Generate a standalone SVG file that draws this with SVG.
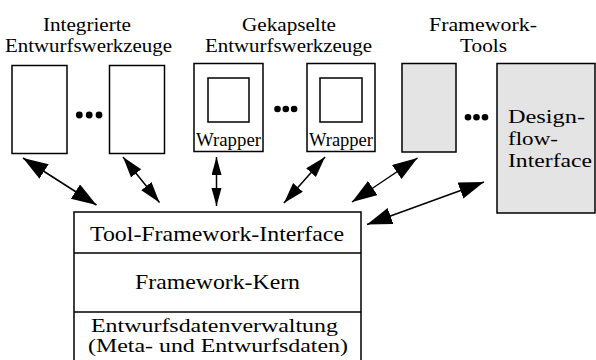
<svg xmlns="http://www.w3.org/2000/svg" width="596" height="360" viewBox="0 0 596 360">
  <style>
    .box { fill: #ffffff; stroke: #000000; stroke-width: 1.5; }
    .tool { fill: #e4e4e4; stroke: #000000; stroke-width: 1.5; }
    .t { font-family: "Liberation Serif", "Times New Roman", serif; fill: #000000; }
    .lbl { font-size: 19px; }
    .wrap { font-size: 18px; }
    .big { font-size: 22px; }
    .mid { font-size: 19px; }
    .small { font-size: 18px; }
    .dot { fill: #000000; }
    .con { stroke: #000000; stroke-width: 1.5; fill: none; }
  </style>
  <defs>
    <marker id="headL" markerUnits="userSpaceOnUse" markerWidth="26" markerHeight="18" refX="25" refY="8.5" orient="auto-start-reverse">
      <path d="M0,0 L25,8.5 L0,17 z" fill="#000000"/>
    </marker>
    <marker id="headM" markerUnits="userSpaceOnUse" markerWidth="22" markerHeight="14" refX="21" refY="6.5" orient="auto-start-reverse">
      <path d="M0,0 L21,6.5 L0,13 z" fill="#000000"/>
    </marker>
    <marker id="headS" markerUnits="userSpaceOnUse" markerWidth="19" markerHeight="11" refX="18" refY="5" orient="auto-start-reverse">
      <path d="M0,0 L18,5 L0,10 z" fill="#000000"/>
    </marker>
  </defs>

  <!-- group headings -->
  <g id="heading-integrated">
    <text class="t lbl" x="43" y="31" textLength="88" lengthAdjust="spacingAndGlyphs">Integrierte</text>
    <text class="t lbl" x="5" y="52" textLength="167" lengthAdjust="spacingAndGlyphs">Entwurfswerkzeuge</text>
  </g>
  <g id="heading-wrapped">
    <text class="t lbl" x="242" y="31" textLength="94" lengthAdjust="spacingAndGlyphs">Gekapselte</text>
    <text class="t lbl" x="205" y="52" textLength="167" lengthAdjust="spacingAndGlyphs">Entwurfswerkzeuge</text>
  </g>
  <g id="heading-framework-tools">
    <text class="t lbl" x="429" y="31" textLength="108" lengthAdjust="spacingAndGlyphs">Framework-</text>
    <text class="t lbl" x="460" y="52" textLength="47" lengthAdjust="spacingAndGlyphs">Tools</text>
  </g>

  <!-- integrated tools -->
  <g id="integrated-1">
    <rect class="box" x="12" y="65.5" width="55" height="88"/>
  </g>
  <g id="integrated-dots">
    <circle class="dot" cx="79.3" cy="115" r="3.4"/>
    <circle class="dot" cx="89.2" cy="115" r="3.4"/>
    <circle class="dot" cx="99" cy="115" r="3.4"/>
  </g>
  <g id="integrated-n">
    <rect class="box" x="109.5" y="65.5" width="55" height="88"/>
  </g>

  <!-- wrapped tools -->
  <g id="wrapped-1">
    <rect class="box" x="194" y="63.5" width="69" height="88"/>
    <rect class="box" x="208" y="78" width="41" height="44"/>
    <text class="t wrap" x="196" y="146" textLength="65" lengthAdjust="spacingAndGlyphs">Wrapper</text>
  </g>
  <g id="wrapped-dots">
    <circle class="dot" cx="277.5" cy="109" r="3.3"/>
    <circle class="dot" cx="285.8" cy="109" r="3.3"/>
    <circle class="dot" cx="294.1" cy="109" r="3.3"/>
  </g>
  <g id="wrapped-n">
    <rect class="box" x="307" y="63.5" width="68" height="88"/>
    <rect class="box" x="320" y="78" width="42" height="44"/>
    <text class="t wrap" x="309" y="146" textLength="64" lengthAdjust="spacingAndGlyphs">Wrapper</text>
  </g>

  <!-- framework tools -->
  <g id="framework-tool-1">
    <rect class="tool" x="402" y="63.5" width="54" height="88.5"/>
  </g>
  <g id="framework-dots">
    <circle class="dot" cx="468" cy="117.3" r="3.3"/>
    <circle class="dot" cx="476.5" cy="117.3" r="3.3"/>
    <circle class="dot" cx="485" cy="117.3" r="3.3"/>
  </g>
  <g id="designflow-interface">
    <rect class="tool" x="497" y="63.5" width="98" height="149.5"/>
    <text class="t mid" x="508" y="123" textLength="77" lengthAdjust="spacingAndGlyphs">Design-</text>
    <text class="t mid" x="508" y="144.5" textLength="50" lengthAdjust="spacingAndGlyphs">flow-</text>
    <text class="t mid" x="508" y="167" textLength="84" lengthAdjust="spacingAndGlyphs">Interface</text>
  </g>

  <!-- framework stack -->
  <g id="framework">
    <rect class="box" x="74" y="212" width="287" height="160"/>
    <line class="con" x1="74" y1="253" x2="361" y2="253"/>
    <line class="con" x1="74" y1="312" x2="361" y2="312"/>
    <text class="t big" x="90" y="241" textLength="254" lengthAdjust="spacingAndGlyphs">Tool-Framework-Interface</text>
    <text class="t big" x="135" y="288.5" textLength="165" lengthAdjust="spacingAndGlyphs">Framework-Kern</text>
    <text class="t small" x="91" y="332" textLength="247" lengthAdjust="spacingAndGlyphs">Entwurfsdatenverwaltung</text>
    <text class="t small" x="88" y="351.5" textLength="260" lengthAdjust="spacingAndGlyphs">(Meta- und Entwurfsdaten)</text>
  </g>

  <!-- connectors -->
  <g id="connectors">
    <line class="con" x1="23" y1="158" x2="96.5" y2="205" marker-start="url(#headL)" marker-end="url(#headL)"/>
    <line class="con" x1="123" y1="157" x2="159.5" y2="202.5" marker-start="url(#headM)" marker-end="url(#headM)"/>
    <line class="con" x1="216.5" y1="157" x2="216.5" y2="206" marker-start="url(#headS)" marker-end="url(#headS)"/>
    <line class="con" x1="325" y1="157" x2="284" y2="203" marker-start="url(#headM)" marker-end="url(#headM)"/>
    <line class="con" x1="417.5" y1="158" x2="352" y2="202" marker-start="url(#headL)" marker-end="url(#headL)"/>
    <line class="con" x1="484" y1="182" x2="367" y2="224.5" marker-start="url(#headL)" marker-end="url(#headL)"/>
  </g>
</svg>
